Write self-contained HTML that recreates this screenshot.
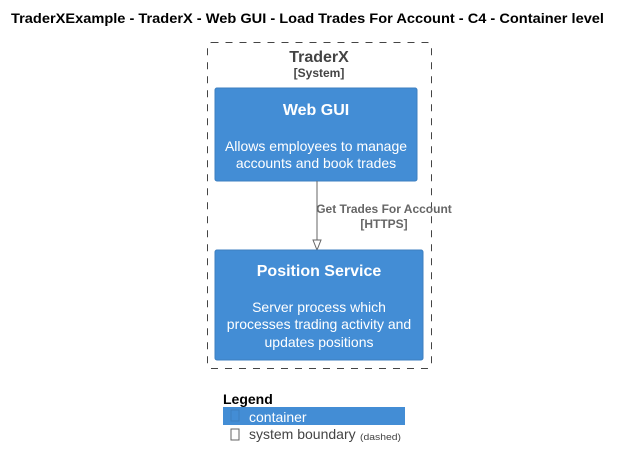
<!DOCTYPE html>
<html><head><meta charset="utf-8"><style>
body{margin:0;background:#fff;}
svg{display:block;font-family:"Liberation Sans",Arial,sans-serif;}
</style></head><body>
<svg width="622" height="468" viewBox="0 0 622 468" xmlns="http://www.w3.org/2000/svg">
<text x="11" y="23" font-size="14" font-weight="bold" fill="#000" textLength="593" lengthAdjust="spacingAndGlyphs">TraderXExample - TraderX - Web GUI - Load Trades For Account - C4 - Container level</text>
<rect x="207.5" y="42.5" width="224" height="326" rx="4" fill="none" stroke="#444" stroke-dasharray="7,7"/>
<text x="319" y="62" font-size="16" font-weight="bold" fill="#444" text-anchor="middle">TraderX</text>
<text x="319" y="77" font-size="12" font-weight="bold" fill="#444" text-anchor="middle">[System]</text>
<rect x="215" y="88" width="202" height="93" rx="2" fill="#438DD5" stroke="#3C7FC0"/>
<text x="316" y="115" font-size="16" font-weight="bold" fill="#fff" text-anchor="middle">Web GUI</text>
<text x="316" y="151" font-size="14" fill="#fff" text-anchor="middle">Allows employees to manage</text>
<text x="316" y="168" font-size="14" fill="#fff" text-anchor="middle">accounts and book trades</text>
<line x1="317" y1="181" x2="317" y2="246" stroke="#666"/>
<polygon points="313,240 317,250 321,240" fill="#fff" stroke="#666"/>
<text x="384" y="213" font-size="12" font-weight="bold" fill="#666" text-anchor="middle">Get Trades For Account</text>
<text x="384" y="228" font-size="12" font-weight="bold" fill="#666" text-anchor="middle">[HTTPS]</text>
<rect x="215" y="250" width="208" height="110" rx="2" fill="#438DD5" stroke="#3C7FC0"/>
<text x="319" y="276" font-size="16" font-weight="bold" fill="#fff" text-anchor="middle">Position Service</text>
<text x="319" y="312" font-size="14" fill="#fff" text-anchor="middle">Server process which</text>
<text x="319" y="329" font-size="14" fill="#fff" text-anchor="middle">processes trading activity and</text>
<text x="319" y="347" font-size="14" fill="#fff" text-anchor="middle">updates positions</text>
<text x="223" y="404" font-size="14" font-weight="bold" fill="#000">Legend</text>
<rect x="223" y="407" width="182" height="18" fill="#438DD5"/>
<rect x="231" y="410" width="8" height="11" fill="none" stroke="#3C7FC0"/>
<text x="249" y="422" font-size="14" fill="#fff">container</text>
<rect x="231" y="429" width="8" height="11" fill="none" stroke="#666"/>
<text x="249" y="439" font-size="14" fill="#444">system boundary</text>
<text x="360" y="440" font-size="9" fill="#444" textLength="41" lengthAdjust="spacingAndGlyphs">(dashed)</text>
</svg>
</body></html>
